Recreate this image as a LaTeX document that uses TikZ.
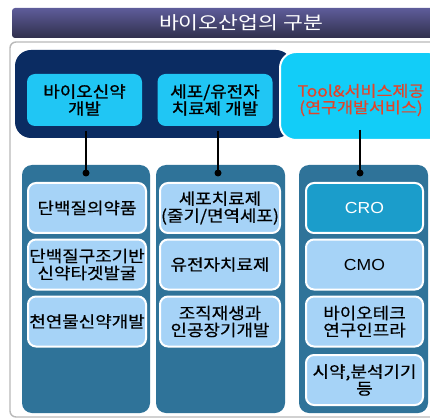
\documentclass[tikz,border=0pt]{standalone}
\usepackage{fontspec}
\newfontfamily\kr[FakeStretch=1.12,FakeBold=0.5]{Noto Sans CJK KR}
\newfontfamily\krb[FakeStretch=1.12,FakeBold=1.2]{Noto Sans CJK KR}
\newfontfamily\krt[FakeStretch=1.2]{Noto Sans CJK KR}
\newfontfamily\lat[FakeStretch=1.1]{Liberation Sans}
\definecolor{titletop}{HTML}{5E5C9A}
\definecolor{titlebot}{HTML}{30304C}
\definecolor{navy}{HTML}{0B2C62}
\definecolor{cyanbox}{HTML}{12CDF8}
\definecolor{topbox}{HTML}{20C6F4}
\definecolor{colblue}{HTML}{2F7399}
\definecolor{inner}{HTML}{A6D3F7}
\definecolor{crofill}{HTML}{1B9DCB}
\definecolor{redtxt}{HTML}{E2452B}
\tikzset{
  txt/.style={font=\kr\fontsize{16}{17}\selectfont, align=center, inner sep=0pt},
  toptxt/.style={font=\krb\fontsize{16}{17}\selectfont},
  topbox/.style={txt, toptxt, fill=topbox, rounded corners=8pt, minimum width=115pt, minimum height=52pt},
  colbox/.style={fill=colblue, rounded corners=10pt, minimum width=128pt, minimum height=248pt, inner sep=0pt},
  innerbox/.style={txt, fill=inner, draw=white, line width=2pt, rounded corners=8pt, minimum height=50pt},
  latbox/.style={font=\lat\fontsize{16}{17}\selectfont},
  link/.style={line width=2.6pt, black},
  dotmark/.style={circle, fill=black, inner sep=0pt, minimum size=7pt}
}
\begin{document}
\begin{tikzpicture}[x=1pt,y=-1pt]
\useasboundingbox (0,0) rectangle (430,419);
% title bar
\shade[top color=titletop, bottom color=titlebot, rounded corners=3pt] (12,8) rectangle (436,38);
\node[txt, text=white, font=\krt\fontsize{18}{19}\selectfont] (title) at (241,23) {바이오산업의 구분};
% outer panel
\draw[gray!55, line width=1.4pt, fill=white, rounded corners=6pt] (10,42) rectangle (440,417);
% navy panel
\fill[navy, rounded corners=16pt] (15,50) rectangle (292,138);
% cyan right box
\draw[white, line width=2pt, fill=cyanbox, rounded corners=16pt] (280,52) rectangle (445,140);
\node[txt, text=redtxt, font=\kr\fontsize{15.5}{16.5}\selectfont] (tool) at (361,100) {Tool\&서비스제공\\(연구개발서비스)};
% top boxes
\node[topbox] (bio) at (84.5,100) {바이오신약\\개발};
\node[topbox] (cell) at (215,100) {세포/유전자\\치료제 개발};
% columns
\node[colbox] (col1) at (86,289) {};
\node[colbox, minimum width=129pt] (col2) at (220.5,289) {};
\node[colbox, minimum width=129pt] (col3) at (363.5,289) {};
% link ends
\coordinate (s1) at (86,131);
\coordinate (s2) at (218,131);
\coordinate (s3) at (360,130);
\node[dotmark] (d1) at (86,173) {};
\node[dotmark] (d2) at (218,173) {};
\node[dotmark] (d3) at (360,173) {};
\draw[link] (s1) -- (d1.center);
\draw[link] (s2) -- (d2.center);
\draw[link] (s3) -- (d3.center);
% column 1
\node[innerbox, minimum width=118pt] (a1) at (87,208) {단백질의약품};
\node[innerbox, minimum width=118pt] (a2) at (87,264.5) {단백질구조기반\\신약타겟발굴};
\node[innerbox, minimum width=118pt] (a3) at (87,321.5) {천연물신약개발};
% column 2
\node[innerbox, minimum width=120pt] (b1) at (220,208) {세포치료제\\(줄기/면역세포)};
\node[innerbox, minimum width=120pt] (b2) at (220,264.5) {유전자치료제};
\node[innerbox, minimum width=120pt] (b3) at (220,321.5) {조직재생과\\인공장기개발};
% column 3
\node[innerbox, latbox, minimum width=117pt, fill=crofill, text=white] (c1) at (364.5,208) {CRO};
\node[innerbox, latbox, minimum width=117pt] (c2) at (364.5,264.5) {CMO};
\node[innerbox, minimum width=117pt] (c3) at (364.5,321.5) {바이오테크\\연구인프라};
\node[innerbox, minimum width=117pt] (c4) at (364.5,380) {시약,분석기기\\등};
\end{tikzpicture}
\end{document}
